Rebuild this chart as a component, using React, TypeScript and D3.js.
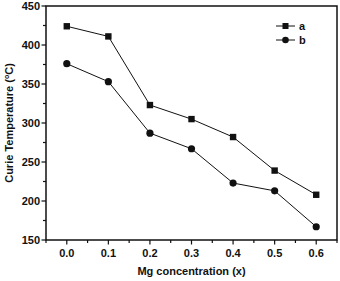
import * as d3 from "d3"

const xValues = [0.0, 0.1, 0.2, 0.3, 0.4, 0.5, 0.6]
const seriesA = [424, 411, 323, 305, 282, 239, 208]
const seriesB = [376, 353, 287, 267, 223, 213, 167]
const seriesNames = ["a", "b"]
const xTickValues = [0.0, 0.1, 0.2, 0.3, 0.4, 0.5, 0.6]
const yTickValues = [150, 200, 250, 300, 350, 400, 450]

const width = 340
const height = 281
const margin = { top: 6, right: 3, bottom: 41, left: 46 }
const ink = "#111"

const App = () => {
    const x = d3.scaleLinear().domain([-0.05, 0.65]).range([margin.left, width - margin.right])
    const y = d3.scaleLinear().domain([150, 450]).range([height - margin.bottom, margin.top])
    const font = "'Liberation Sans', Arial, sans-serif"
    const [x0, x1] = x.range()
    const [y0, y1] = y.range()
    const xMinor = d3.range(-0.05, 0.651, 0.05)
    const yMinor = d3.range(150, 451, 25)
    const fw = 0.75 // half frame width

    const line = d3.line<number>()
        .x((d, i) => x(xValues[i]))
        .y(d => y(d))

    const txt = { fontFamily: font, fontWeight: "bold" as const, fontSize: 11, fill: ink }

    return (
        <svg
            width={width}
            height={height}
            style={{ position: "absolute", left: 0, top: 0, display: "block", background: "#fff" }}
        >
            {/* frame, drawn as filled bands */}
            <rect x={x0 - fw} y={y1 - fw} width={x1 - x0 + 2 * fw} height={y0 - y1 + 2 * fw} fill={ink} />
            <rect x={x0 + fw} y={y1 + fw} width={x1 - x0 - 2 * fw} height={y0 - y1 - 2 * fw} fill="#fff" />

            {/* ticks */}
            {xMinor.map((d, i) => (
                <rect key={"xt" + i} x={x(d) - 0.6} y={y0} width={1.2} height={i % 2 === 1 ? 4.5 : 3} fill={ink} />
            ))}
            {yMinor.map((d, i) => {
                const len = i % 2 === 0 ? 4.5 : 3
                return <rect key={"yt" + i} x={x0 - len} y={y(d) - 0.6} width={len} height={1.2} fill={ink} />
            })}

            {xTickValues.map(d => (
                <text key={"xl" + d} x={x(d)} y={y0 + 17} textAnchor="middle" {...txt}>{d3.format(".1f")(d)}</text>
            ))}
            {yTickValues.map(d => (
                <text key={"yl" + d} x={x0 - 6} y={y(d) + 4} textAnchor="end" {...txt}>{d}</text>
            ))}

            <text x={(x0 + x1) / 2} y={275} textAnchor="middle" {...txt}>Mg concentration (x)</text>
            <text transform={`translate(13,${(y0 + y1) / 2}) rotate(-90)`} textAnchor="middle" {...txt}>
                <tspan>Curie Temperature (</tspan>
                <tspan fontSize={7} dy={-4}>o</tspan>
                <tspan dy={4}>C)</tspan>
            </text>

            {/* series */}
            <path d={line(seriesA) ?? ""} fill="none" stroke={ink} strokeWidth={1} />
            <path d={line(seriesB) ?? ""} fill="none" stroke={ink} strokeWidth={1} />
            {seriesA.map((d, i) => (
                <rect key={"a" + i} x={x(xValues[i]) - 3.2} y={y(d) - 3.2} width={6.4} height={6.4} fill={ink} />
            ))}
            {seriesB.map((d, i) => (
                <circle key={"b" + i} cx={x(xValues[i])} cy={y(d)} r={3.6} fill={ink} />
            ))}

            {/* legend */}
            {seriesNames.map((name, i) => {
                const ly = 26 + i * 14
                return (
                    <g key={name}>
                        <line x1={276} x2={295} y1={ly} y2={ly} stroke={ink} strokeWidth={1} />
                        {i === 0
                            ? <rect x={282.5} y={ly - 3} width={6} height={6} fill={ink} />
                            : <circle cx={285.5} cy={ly} r={3.3} fill={ink} />}
                        <text x={299} y={ly + 4} {...txt}>{name}</text>
                    </g>
                )
            })}
        </svg>
    )
}

export default App
